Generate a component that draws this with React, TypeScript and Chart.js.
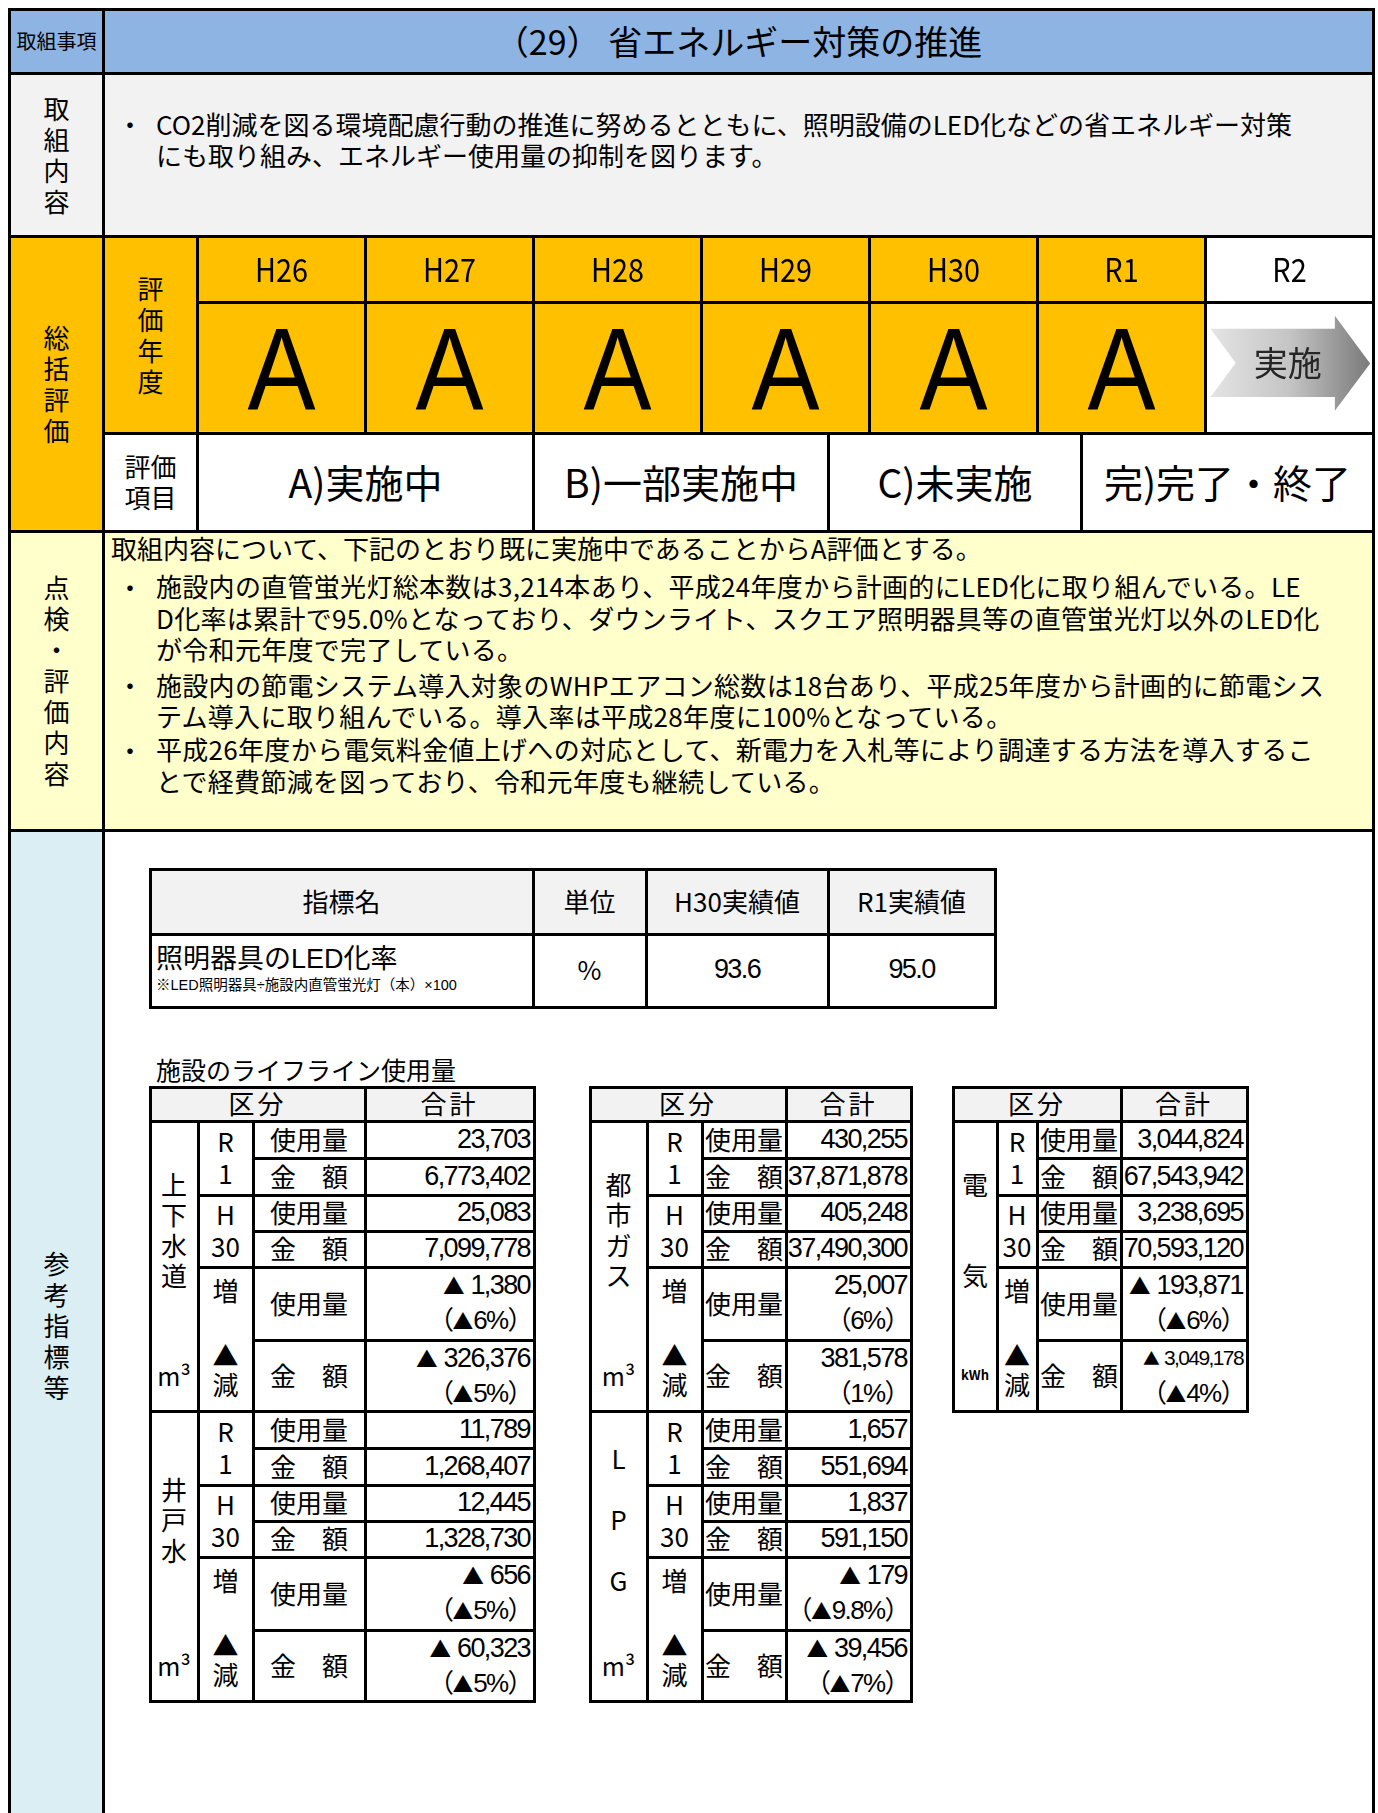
import React, { useEffect, useRef } from "react";
import { Chart, registerables } from "chart.js";

Chart.register(...registerables);

const JP = '"Noto Sans CJK JP", "Noto Sans", sans-serif';
const NUM_FONT = '"Liberation Sans", "Noto Sans CJK JP", sans-serif';

// ---------------- data ----------------
const HEADER_LABEL = "取組事項";
const TITLE = "（29） 省エネルギー対策の推進";
const SECTION_LABELS = ["取組内容", "総括評価", "点検・評価内容", "参考指標等"];
const CONTENT_LINES = [
  "CO2削減を図る環境配慮行動の推進に努めるとともに、照明設備のLED化などの省エネルギー対策",
  "にも取り組み、エネルギー使用量の抑制を図ります。",
];
const YEAR_LABELS = ["H26", "H27", "H28", "H29", "H30", "R1", "R2"];
const YEAR_GRADES = ["A", "A", "A", "A", "A", "A", ""];
const NEXT_STEP = "実施";
const SUB_LABEL_YEAR = "評価年度";
const SUB_LABEL_ITEMS = ["評価", "項目"];
const EVAL_ITEMS = ["A)実施中", "B)一部実施中", "C)未実施", "完)完了・終了"];
const CHECK_INTRO = "取組内容について、下記のとおり既に実施中であることからA評価とする。";
const CHECK_BULLETS = [
  [
    "施設内の直管蛍光灯総本数は3,214本あり、平成24年度から計画的にLED化に取り組んでいる。LE",
    "D化率は累計で95.0%となっており、ダウンライト、スクエア照明器具等の直管蛍光灯以外のLED化",
    "が令和元年度で完了している。",
  ],
  [
    "施設内の節電システム導入対象のWHPエアコン総数は18台あり、平成25年度から計画的に節電シス",
    "テム導入に取り組んでいる。導入率は平成28年度に100%となっている。",
  ],
  [
    "平成26年度から電気料金値上げへの対応として、新電力を入札等により調達する方法を導入するこ",
    "とで経費節減を図っており、令和元年度も継続している。",
  ],
];
const INDICATOR_HEADERS = ["指標名", "単位", "H30実績値", "R1実績値"];
const INDICATOR_NAME = "照明器具のLED化率";
const INDICATOR_NOTE = "※LED照明器具÷施設内直管蛍光灯（本）×100";
const INDICATOR_UNIT = "%";
const INDICATOR_VALUES = ["93.6", "95.0"];

const LIFELINE_TITLE = "施設のライフライン使用量";
const LIFELINE_HEAD = ["区分", "合計"];
const LIFELINE_NAME_LINES = [
  ["上", "下", "水", "道"],
  ["井", "戸", "水"],
  ["都", "市", "ガ", "ス"],
  ["L", "", "P", "", "G"],
  ["電", "", "", "気"],
];
const LIFELINE_UNITS = ["m³", "m³", "m³", "m³", "kWh"];
const PERIOD_LABELS = [["R", "1"], ["H", "30"]];
const DIFF_LABEL_TOP = "増";
const DIFF_LABEL_BOTTOM = ["▲", "減"];
const ROW_LABELS = ["使用量", "金　額"];
const R1_USAGE = ["23,703", "11,789", "430,255", "1,657", "3,044,824"];
const R1_COST = ["6,773,402", "1,268,407", "37,871,878", "551,694", "67,543,942"];
const H30_USAGE = ["25,083", "12,445", "405,248", "1,837", "3,238,695"];
const H30_COST = ["7,099,778", "1,328,730", "37,490,300", "591,150", "70,593,120"];
const DIFF_USAGE = ["▲ 1,380", "▲ 656", "25,007", "▲ 179", "▲ 193,871"];
const DIFF_USAGE_PCT = ["（▲6%）", "（▲5%）", "（6%）", "（▲9.8%）", "（▲6%）"];
const DIFF_COST = ["▲ 326,376", "▲ 60,323", "381,578", "▲ 39,456", "▲ 3,049,178"];
const DIFF_COST_PCT = ["（▲5%）", "（▲5%）", "（1%）", "（▲7%）", "（▲4%）"];

// ---------------- layout ----------------
const X0 = 9.5, XC = 103.5, XS = 197.5, X1 = 1373.5;
const ROW_Y = [9.5, 73.5, 236.5, 531, 830.5, 1820];
const Y_ITEMS = 433;
const ITEM_X = [197.5, 533.5, 828.5, 1081.5, 1373.5];
const IND_X = [150, 533, 646, 828, 995];
const IND_Y = [869, 934, 1007];
const TABLES = [
  { xs: [150, 198, 253, 365, 534], groups: [0, 1] },
  { xs: [590, 647, 702, 786, 911], groups: [2, 3] },
  { xs: [953, 997, 1037, 1121, 1247], groups: [4] },
];
const LT_TOP = 1087, LT_HEAD = 1121, GROUP_H = 290;
const GROUP_ROWS = [0, 37, 74, 110, 146, 219, 290];

const ORANGE = "#FFC000";
const BLUE = "#8DB4E2";
const GRAY = "#F2F2F2";

function Box({ x0, y0, x1, y1, bg, bw = 3 }: any) {
  return (
    <div
      style={{
        position: "absolute",
        left: x0 - bw / 2,
        top: y0 - bw / 2,
        width: x1 - x0 + bw,
        height: y1 - y0 + bw,
        boxSizing: "border-box",
        border: `${bw}px solid #000`,
        background: bg,
      }}
    />
  );
}

// Text block: first line centred at y, following lines every lh pixels.
function Txt({ x, y, children, lines, size = 26, align = "left", lh, weight, style }: any) {
  const h = lh ?? Math.round(size * 1.15);
  const n = lines ? lines.length : 1;
  const tx = align === "left" ? "none" : align === "center" ? "translateX(-50%)" : "translateX(-100%)";
  return (
    <div
      style={{
        position: "absolute",
        left: x,
        top: y - h / 2 - 1,
        height: h * n,
        lineHeight: `${h}px`,
        fontSize: size,
        whiteSpace: "pre",
        textAlign: align,
        fontWeight: weight,
        transform: tx,
        ...style,
      }}
    >
      {lines ? lines.join("\n") : children}
    </div>
  );
}

const NUM_STYLE = { letterSpacing: "-1.6px", fontFamily: NUM_FONT };

// Render the ▲ marks with the Japanese font (full-size triangle) inside numeric text.
function Tri({ s }: { s: string }) {
  const parts = s.split("▲");
  return (
    <>
      {parts.map((p, i) => (
        <React.Fragment key={i}>
          {i > 0 && <span style={{ fontFamily: JP, fontSize: "0.8em", letterSpacing: 0 }}>▲</span>}
          {p}
        </React.Fragment>
      ))}
    </>
  );
}

function VText({ cx, cy, lines, size = 26, lh = 31 }: any) {
  const n = lines.length;
  return <Txt x={cx} y={cy - ((n - 1) / 2) * lh} lines={lines} size={size} lh={lh} align="center" />;
}

function GradeGrid() {
  const ref = useRef<HTMLCanvasElement>(null);
  useEffect(() => {
    const canvas = ref.current!;
    const textPlugin = {
      id: "gradeText",
      afterDraw(chart: any) {
        const { ctx, scales } = chart;
        const x = scales.x, y = scales.y;
        const colW = x.getPixelForValue(1) - x.getPixelForValue(0);
        YEAR_LABELS.forEach((lab, i) => {
          const cx = x.getPixelForValue(i);
          ctx.save();
          ctx.translate(cx, y.getPixelForValue(2.5));
          ctx.scale(0.9, 1);
          ctx.font = `32px ${JP}`;
          ctx.textAlign = "center";
          ctx.textBaseline = "middle";
          ctx.fillStyle = "#000";
          ctx.fillText(lab, 0, 1);
          ctx.restore();
          const g = YEAR_GRADES[i];
          if (g) {
            ctx.save();
            ctx.translate(cx, y.getPixelForValue(1));
            ctx.scale(0.88, 1);
            ctx.font = `116px "Liberation Sans", Arial, sans-serif`;
            ctx.textAlign = "center";
            ctx.textBaseline = "alphabetic";
            ctx.fillStyle = "#000";
            ctx.fillText(g, 0, 42);
            ctx.restore();
          } else {
            const L = cx - colW / 2;
            const T = y.getPixelForValue(2);
            const B = y.getPixelForValue(0);
            const H = B - T;
            const px = (f: number) => L + f * colW;
            const py = (f: number) => T + f * H;
            ctx.save();
            const grad = ctx.createLinearGradient(px(0.03), 0, px(0.98), 0);
            grad.addColorStop(0, "#E4E4E4");
            grad.addColorStop(0.5, "#C4C4C4");
            grad.addColorStop(1, "#7A7A7A");
            ctx.fillStyle = grad;
            ctx.beginPath();
            ctx.moveTo(px(0.03), py(0.205));
            ctx.lineTo(px(0.77), py(0.205));
            ctx.lineTo(px(0.77), py(0.105));
            ctx.lineTo(px(0.98), py(0.47));
            ctx.lineTo(px(0.77), py(0.83));
            ctx.lineTo(px(0.77), py(0.725));
            ctx.lineTo(px(0.03), py(0.725));
            ctx.lineTo(px(0.18), py(0.465));
            ctx.closePath();
            ctx.fill();
            ctx.font = `34px ${JP}`;
            ctx.textAlign = "center";
            ctx.textBaseline = "middle";
            ctx.fillStyle = "#262626";
            ctx.fillText(NEXT_STEP, px(0.49), py(0.47));
            ctx.restore();
          }
        });
      },
    };
    const chart = new Chart(canvas, {
      type: "bar",
      data: {
        labels: YEAR_LABELS,
        datasets: [
          {
            data: YEAR_LABELS.map(() => [0, 3]) as any,
            backgroundColor: YEAR_GRADES.map((g) => (g ? ORANGE : "#FFFFFF")),
            barPercentage: 1,
            categoryPercentage: 1,
            borderWidth: 0,
          },
        ],
      },
      options: {
        animation: false,
        responsive: false,
        devicePixelRatio: 1,
        events: [],
        layout: { padding: { left: 1.5, right: 1.5, top: 1.5, bottom: 2 } },
        plugins: { legend: { display: false }, tooltip: { enabled: false } },
        scales: {
          x: {
            offset: true,
            grid: { z: 1, offset: true, color: "#000", lineWidth: 3, drawTicks: false },
            border: { display: false },
            ticks: { display: false },
          },
          y: {
            min: 0,
            max: 3,
            grid: {
              z: 1,
              color: (c: any) => (c.tick && c.tick.value === 1 ? "rgba(0,0,0,0)" : "#000"),
              lineWidth: 3,
              drawTicks: false,
            },
            border: { display: false },
            ticks: { display: false, stepSize: 1 },
          },
        },
      } as any,
      plugins: [textPlugin],
    });
    return () => chart.destroy();
  }, []);
  return (
    <canvas
      ref={ref}
      width={1179}
      height={200}
      style={{ position: "absolute", left: 196, top: 235, width: 1179, height: 200 }}
    />
  );
}

function LifelineTable({ xs, groups }: any) {
  const [c0, c1, c2, c3, c4] = xs;
  const els: any[] = [];
  els.push(<Box key="h0" x0={c0} y0={LT_TOP} x1={c3} y1={LT_HEAD} bg={GRAY} />);
  els.push(<Box key="h1" x0={c3} y0={LT_TOP} x1={c4} y1={LT_HEAD} bg={GRAY} />);
  const hy = (LT_TOP + LT_HEAD) / 2;
  els.push(
    <Txt key="ht0" x={(c0 + c3) / 2} y={hy} align="center" lh={30} style={{ letterSpacing: 3 }}>
      {LIFELINE_HEAD[0]}
    </Txt>
  );
  els.push(
    <Txt key="ht1" x={(c3 + c4) / 2} y={hy} align="center" lh={30} style={{ letterSpacing: 3 }}>
      {LIFELINE_HEAD[1]}
    </Txt>
  );
  groups.forEach((g: number, gi: number) => {
    const gt = LT_HEAD + gi * GROUP_H;
    const R = GROUP_ROWS.map((r) => gt + r);
    els.push(<Box key={`n${g}`} x0={c0} y0={R[0]} x1={c1} y1={R[6]} bg="#fff" />);
    els.push(
      <VText key={`nt${g}`} cx={(c0 + c1) / 2} cy={gt + 109.5} lines={LIFELINE_NAME_LINES[g]} lh={30.5} />
    );
    const unit = LIFELINE_UNITS[g];
    els.push(
      <Txt
        key={`u${g}`}
        x={(c0 + c1) / 2}
        y={gt + 255}
        align="center"
        size={unit === "kWh" ? 13 : 25}
        weight={unit === "kWh" ? 700 : 400}
        lh={28}
      >
        {unit}
      </Txt>
    );
    [0, 1].forEach((p) => {
      els.push(<Box key={`p${g}${p}`} x0={c1} y0={R[p * 2]} x1={c2} y1={R[p * 2 + 2]} bg="#fff" />);
      const cy = (R[p * 2] + R[p * 2 + 2]) / 2;
      els.push(
        <Txt key={`pt${g}${p}`} x={(c1 + c2) / 2} y={cy - 16} align="center" lh={32} lines={PERIOD_LABELS[p]} />
      );
    });
    els.push(<Box key={`d${g}`} x0={c1} y0={R[4]} x1={c2} y1={R[6]} bg="#fff" />);
    els.push(
      <Txt key={`dt${g}`} x={(c1 + c2) / 2} y={R[4] + 24} align="center" lh={28}>
        {DIFF_LABEL_TOP}
      </Txt>
    );
    els.push(
      <Txt key={`db${g}`} x={(c1 + c2) / 2} y={R[4] + 88} align="center" lh={29} lines={DIFF_LABEL_BOTTOM} />
    );
    const vals = [R1_USAGE[g], R1_COST[g], H30_USAGE[g], H30_COST[g]];
    for (let k = 0; k < 6; k++) {
      els.push(<Box key={`l${g}${k}`} x0={c2} y0={R[k]} x1={c3} y1={R[k + 1]} bg="#fff" />);
      els.push(<Box key={`v${g}${k}`} x0={c3} y0={R[k]} x1={c4} y1={R[k + 1]} bg="#fff" />);
      const cy = (R[k] + R[k + 1]) / 2;
      els.push(
        <Txt key={`lt${g}${k}`} x={(c2 + c3) / 2} y={cy} align="center" lh={30}>
          {ROW_LABELS[k % 2]}
        </Txt>
      );
      if (k < 4) {
        els.push(
          <Txt key={`vt${g}${k}`} x={c4 - 4} y={cy} align="right" size={27} lh={30} style={NUM_STYLE}>
            {vals[k]}
          </Txt>
        );
      } else {
        const main = k === 4 ? DIFF_USAGE[g] : DIFF_COST[g];
        const pct = k === 4 ? DIFF_USAGE_PCT[g] : DIFF_COST_PCT[g];
        const fs = main.length > 10 ? 21 : 27;
        els.push(
          <div
            key={`vm${g}${k}`}
            style={{
              position: "absolute",
              left: c4 - 4,
              top: R[k] + 1,
              transform: "translateX(-100%)",
              textAlign: "right",
              whiteSpace: "pre",
              ...NUM_STYLE,
            }}
          >
            <div style={{ fontSize: fs, height: 34, lineHeight: "34px" }}>
              <Tri s={main} />
            </div>
            <div style={{ fontSize: 26, height: 36, lineHeight: "36px", marginRight: -2 }}>
              <Tri s={pct} />
            </div>
          </div>
        );
      }
    }
  });
  return <>{els}</>;
}

export default function App() {
  const rowMid = (i: number) => (ROW_Y[i] + ROW_Y[i + 1]) / 2;
  const leftMid = (X0 + XC) / 2;
  const bulletFirstY = [587, 685.5, 750];
  return (
    <div
      style={{
        position: "absolute",
        left: 0,
        top: 0,
        width: 1378,
        height: 1830,
        overflow: "hidden",
        fontFamily: JP,
        color: "#000",
        background: "#fff",
      }}
    >
      {/* frame */}
      <Box x0={X0} y0={ROW_Y[0]} x1={XC} y1={ROW_Y[1]} bg={BLUE} />
      <Box x0={XC} y0={ROW_Y[0]} x1={X1} y1={ROW_Y[1]} bg={BLUE} />
      <Box x0={X0} y0={ROW_Y[1]} x1={XC} y1={ROW_Y[2]} bg={GRAY} />
      <Box x0={XC} y0={ROW_Y[1]} x1={X1} y1={ROW_Y[2]} bg={GRAY} />
      <Box x0={X0} y0={ROW_Y[2]} x1={XC} y1={ROW_Y[3]} bg={ORANGE} />
      <Box x0={XC} y0={ROW_Y[2]} x1={XS} y1={Y_ITEMS} bg={ORANGE} />
      <Box x0={XC} y0={Y_ITEMS} x1={XS} y1={ROW_Y[3]} bg="#fff" />
      {EVAL_ITEMS.map((_, i) => (
        <Box key={`ib${i}`} x0={ITEM_X[i]} y0={Y_ITEMS} x1={ITEM_X[i + 1]} y1={ROW_Y[3]} bg="#fff" />
      ))}
      <Box x0={X0} y0={ROW_Y[3]} x1={XC} y1={ROW_Y[4]} bg="#FFFFCC" />
      <Box x0={XC} y0={ROW_Y[3]} x1={X1} y1={ROW_Y[4]} bg="#FFFFCC" />
      <Box x0={X0} y0={ROW_Y[4]} x1={XC} y1={ROW_Y[5]} bg="#DAEEF3" />
      <Box x0={XC} y0={ROW_Y[4]} x1={X1} y1={ROW_Y[5]} bg="#fff" />

      <GradeGrid />

      {/* header */}
      <Txt x={leftMid} y={rowMid(0)} size={20} align="center">
        {HEADER_LABEL}
      </Txt>
      <Txt x={(XC + X1) / 2} y={rowMid(0)} size={34} align="center">
        {TITLE}
      </Txt>

      {/* section labels */}
      {SECTION_LABELS.map((s, i) => (
        <VText key={`s${i}`} cx={leftMid} cy={rowMid(i + 1)} lines={Array.from(s)} />
      ))}
      <VText cx={(XC + XS) / 2} cy={(ROW_Y[2] + Y_ITEMS) / 2} lines={Array.from(SUB_LABEL_YEAR)} />
      <VText cx={(XC + XS) / 2} cy={(Y_ITEMS + ROW_Y[3]) / 2} lines={SUB_LABEL_ITEMS} />

      {/* content */}
      <Txt x={117} y={124} lh={31}>
        ・
      </Txt>
      <Txt x={156} y={124} lh={31} lines={CONTENT_LINES} />

      {/* evaluation items */}
      {EVAL_ITEMS.map((t, i) => (
        <Txt key={`it${i}`} x={(ITEM_X[i] + ITEM_X[i + 1]) / 2} y={(Y_ITEMS + ROW_Y[3]) / 2} size={39} align="center">
          {t}
        </Txt>
      ))}

      {/* check */}
      <Txt x={111} y={548} lh={31}>
        {CHECK_INTRO}
      </Txt>
      {CHECK_BULLETS.map((b, bi) => (
        <React.Fragment key={`b${bi}`}>
          <Txt x={117} y={bulletFirstY[bi]} lh={31}>
            ・
          </Txt>
          <Txt x={156} y={bulletFirstY[bi]} lh={31.5} lines={b} style={{ letterSpacing: "0.3px" }} />
        </React.Fragment>
      ))}

      {/* indicator table */}
      {INDICATOR_HEADERS.map((h, i) => (
        <React.Fragment key={`ih${i}`}>
          <Box x0={IND_X[i]} y0={IND_Y[0]} x1={IND_X[i + 1]} y1={IND_Y[1]} bg={GRAY} />
          <Box x0={IND_X[i]} y0={IND_Y[1]} x1={IND_X[i + 1]} y1={IND_Y[2]} bg="#fff" />
          <Txt x={(IND_X[i] + IND_X[i + 1]) / 2} y={(IND_Y[0] + IND_Y[1]) / 2} align="center">
            {h}
          </Txt>
        </React.Fragment>
      ))}
      <div style={{ position: "absolute", left: 156, top: 943, whiteSpace: "pre", fontFamily: NUM_FONT }}>
        <div style={{ fontSize: 27, height: 33, lineHeight: "33px" }}>{INDICATOR_NAME}</div>
        <div style={{ fontSize: 14.5, height: 18, lineHeight: "18px" }}>{INDICATOR_NOTE}</div>
      </div>
      <Txt x={(IND_X[1] + IND_X[2]) / 2} y={970} align="center">
        {INDICATOR_UNIT}
      </Txt>
      {INDICATOR_VALUES.map((v, i) => (
        <Txt key={`iv${i}`} x={(IND_X[i + 2] + IND_X[i + 3]) / 2} y={970} align="center" size={27} style={NUM_STYLE}>
          {v}
        </Txt>
      ))}

      {/* lifeline */}
      <Txt x={156} y={1070} size={25} lh={28}>
        {LIFELINE_TITLE}
      </Txt>
      {TABLES.map((t, i) => (
        <LifelineTable key={`lt${i}`} xs={t.xs} groups={t.groups} />
      ))}
    </div>
  );
}
